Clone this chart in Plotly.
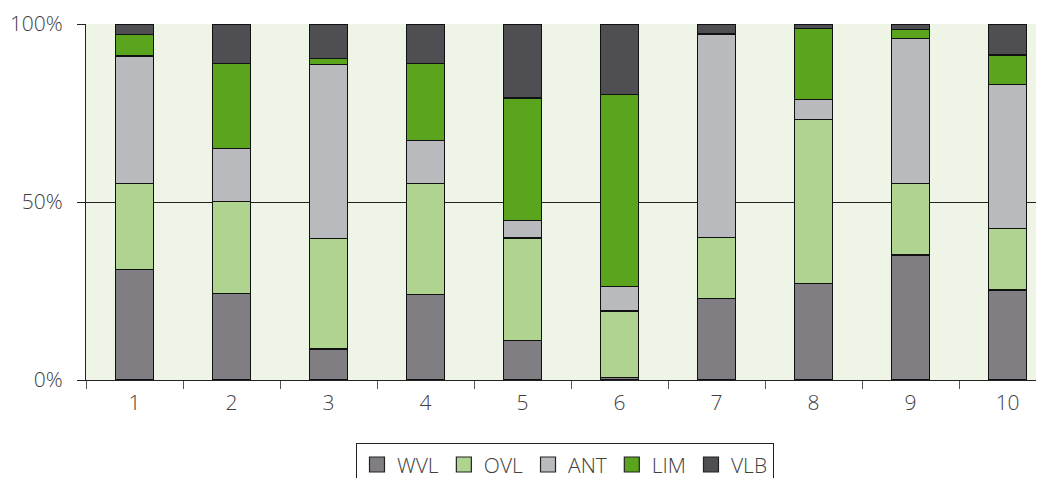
import plotly.graph_objects as go

categories = ["1", "2", "3", "4", "5", "6", "7", "8", "9", "10"]

wvl = [31.0, 24.3, 8.7, 24.1, 11.0, 0.8, 22.9, 27.0, 35.1, 25.3]
ovl = [24.1, 25.9, 31.0, 31.0, 28.9, 18.6, 17.2, 46.1, 20.1, 17.3]
ant = [35.9, 14.9, 48.9, 12.2, 4.8, 6.8, 57.1, 5.6, 40.7, 40.3]
lim = [6.0, 23.8, 1.8, 21.5, 34.5, 53.9, 0.0, 20.0, 2.5, 8.4]
vlb = [3.0, 11.1, 9.6, 11.2, 20.8, 19.9, 2.8, 1.3, 1.6, 8.7]

series = [
    ("WVL", wvl, "#807e83"),
    ("OVL", ovl, "#aed490"),
    ("ANT", ant, "#b9babd"),
    ("LIM", lim, "#5ba41e"),
    ("VLB", vlb, "#4f4e53"),
]

fig = go.Figure()
for name, values, color in series:
    fig.add_trace(
        go.Bar(
            x=categories,
            y=values,
            name=name,
            legendgroup=name,
            showlegend=False,
            width=0.39,
            marker=dict(color=color, line=dict(color="#111111", width=1.2)),
        )
    )

# legend-only entries so the swatches come out as bigger outlined squares
for name, values, color in series:
    fig.add_trace(
        go.Scatter(
            x=[None],
            y=[None],
            mode="markers",
            name=name,
            legendgroup=name,
            marker=dict(symbol="square", size=15, color=color,
                        line=dict(color="#222222", width=1.2)),
        )
    )

# page body has an 8px margin, so the figure is sized to fill the rest of the window
fig.update_layout(
    barmode="stack",
    width=1036,
    height=470,
    margin=dict(l=78, r=0, t=16, b=98, autoexpand=False),
    paper_bgcolor="white",
    plot_bgcolor="#eef4e6",
    font=dict(family="Open Sans", size=21, color="#404040", weight=300),
    showlegend=True,
    legend=dict(
        orientation="h",
        x=0.5,
        xanchor="center",
        y=-0.178,
        yanchor="top",
        bordercolor="#222222",
        borderwidth=1,
        font=dict(size=21, color="#404040"),
        traceorder="normal",
        itemsizing="trace",
        itemwidth=30,
    ),
)

fig.update_xaxes(
    type="category",
    range=[-0.5, 9.375],
    tickson="boundaries",
    ticks="outside",
    ticklen=8,
    tickcolor="#555555",
    ticklabelstandoff=4,
    showline=True,
    linecolor="#222222",
    linewidth=1,
    showgrid=False,
    automargin=False,
)

fig.update_yaxes(
    range=[0, 100],
    tickvals=[0, 50, 100],
    ticktext=["0%", "50%", "100%"],
    ticks="outside",
    ticklen=8,
    tickcolor="#222222",
    ticklabelstandoff=10,
    showline=True,
    linecolor="#222222",
    linewidth=1,
    showgrid=True,
    gridcolor="#222222",
    gridwidth=1,
    zeroline=False,
    automargin=False,
)

fig.write_html("out.html")
